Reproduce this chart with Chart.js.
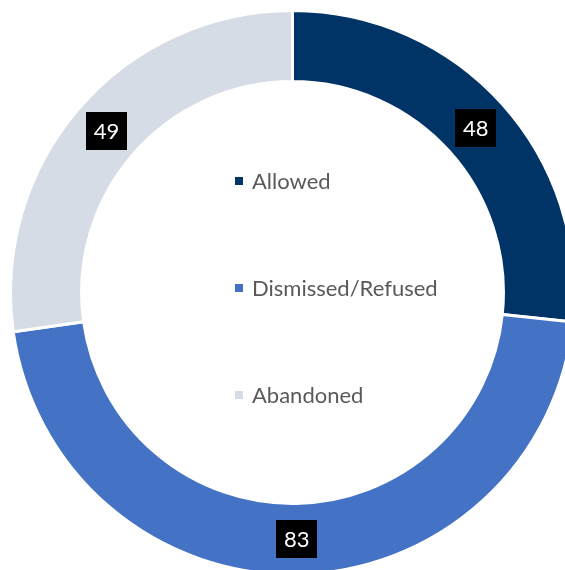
<!DOCTYPE html>
<html>
<head>
<meta charset="utf-8">
<script src="https://cdn.jsdelivr.net/npm/chart.js@4.4.0/dist/chart.umd.min.js"></script>
<style>
html, body { margin: 0; padding: 0; width: 565px; height: 570px; overflow: hidden; background: #fff; }
#c { position: absolute; left: 9px; top: 9px; }
</style>
</head>
<body>
<canvas id="c" width="567" height="567"></canvas>
<script>
const labels = ['Allowed', 'Dismissed/Refused', 'Abandoned'];
const values = [48, 83, 49];
const colors = ['#003366', '#4472C4', '#D6DCE5'];

const FONT = 'Lato, "Open Sans", sans-serif';

// black value boxes in the middle of each slice
const valueBoxes = {
  id: 'valueBoxes',
  afterDatasetsDraw(chart) {
    const ctx = chart.ctx;
    const meta = chart.getDatasetMeta(0);
    ctx.save();
    ctx.font = '22px ' + FONT;
    ctx.textAlign = 'center';
    ctx.textBaseline = 'middle';
    meta.data.forEach((arc, i) => {
      const p = arc.tooltipPosition();
      ctx.fillStyle = '#000';
      ctx.fillRect(Math.round(p.x - 20.5), Math.round(p.y - 19), 41, 38);
      ctx.fillStyle = '#fff';
      ctx.fillText(String(values[i]), p.x, p.y + 1);
    });
    ctx.restore();
  }
};

// legend sits inside the hole
const centerLegend = {
  id: 'centerLegend',
  afterDraw(chart) {
    const ctx = chart.ctx;
    const arc = chart.getDatasetMeta(0).data[0];
    const cx = arc.x, cy = arc.y - 4.5;
    ctx.save();
    ctx.font = '22px ' + FONT;
    ctx.textAlign = 'left';
    ctx.textBaseline = 'middle';
    labels.forEach((l, i) => {
      const y = cy + (i - 1) * 107;
      ctx.fillStyle = colors[i];
      ctx.fillRect(Math.round(cx - 57.5), Math.round(y - 4), 8, 8);
      ctx.fillStyle = '#595959';
      ctx.fillText(l, cx - 40.5, y + 1);
    });
    ctx.restore();
  }
};

new Chart('c', {
  type: 'doughnut',
  data: {
    labels: labels,
    datasets: [{
      data: values,
      backgroundColor: colors,
      borderColor: '#fff',
      borderWidth: 3
    }]
  },
  options: {
    responsive: false,
    animation: false,
    cutout: '74.8%',
    plugins: {
      legend: { display: false },
      tooltip: { enabled: false }
    }
  },
  plugins: [valueBoxes, centerLegend]
});
</script>
</body>
</html>
